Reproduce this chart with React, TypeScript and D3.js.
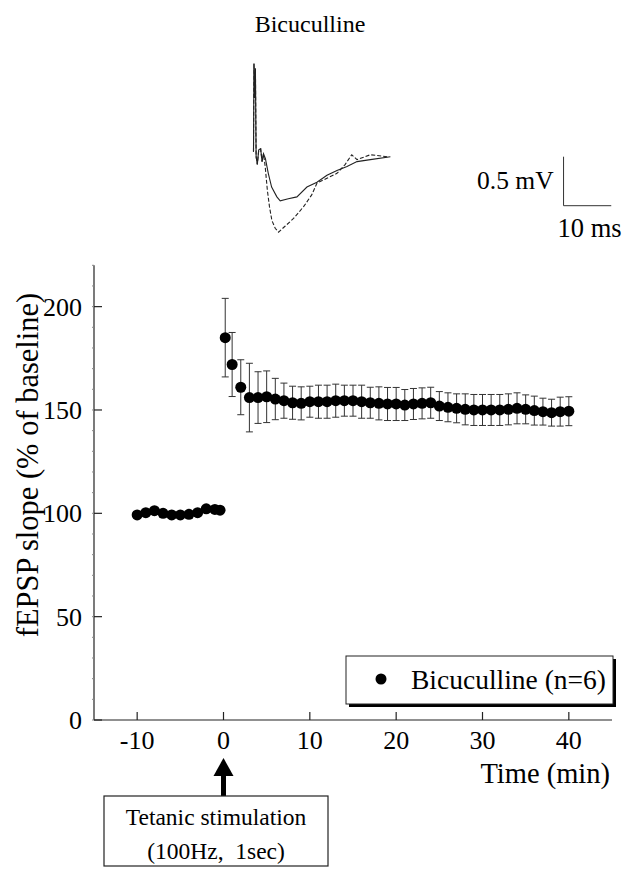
import { useRef, useEffect } from 'react';
import * as d3 from 'd3';

// baseline period (min, % of baseline)
const baseTimes = [-10, -9, -8, -7, -6, -5, -4, -3, -2, -1, -0.4];
const baseMeans = [99.2, 100.3, 101.3, 100, 99.2, 99.2, 99.5, 100.3, 102.2, 101.9, 101.5];
const baseSem = [1.5, 1.5, 1.5, 1.5, 1.5, 1.5, 1.5, 1.5, 1.5, 1.5, 1.5];

// after tetanus
const postTimes = [0.2, 1, 2, 3, 4, 5, 6, 7, 8, 9, 10, 11, 12, 13, 14, 15, 16, 17, 18, 19, 20,
  21, 22, 23, 24, 25, 26, 27, 28, 29, 30, 31, 32, 33, 34, 35, 36, 37, 38, 39, 40];
const postMeans = [185, 172, 161, 156, 156, 156.4, 155.3, 154.5, 153.5, 153.2, 154, 154, 154, 154.5,
  154.5, 154.5, 154, 153.5, 153.2, 152.9, 152.9, 152.4, 152.9, 153.2, 153.5, 151.9, 151.3, 150.8,
  150.3, 150, 150, 150, 150, 150.3, 150.8, 150.3, 149.7, 149.2, 148.7, 149.2, 149.4];
const postSem = [19, 15.5, 13.3, 16.6, 12.5, 12.5, 10, 8.5, 8, 8, 7.5, 8, 8, 8, 7.5, 7.5, 8, 7.5, 8,
  8, 8, 7.5, 7.5, 7.5, 7.5, 7, 7, 7, 7.5, 7.5, 7.5, 7.5, 7.5, 7.5, 7.5, 7, 7, 6.5, 6.5, 7, 7];

const xTicks = [-10, 0, 10, 20, 30, 40];
const yTicks = [0, 50, 100, 150, 200];

// example field potentials (ms, mV)
const traceBefore: [number, number][] = [
  [0, 0.05], [0.1, 0.95], [0.25, 0.6], [0.4, 0.9], [0.55, 0.0], [0.8, -0.08], [1.1, 0.07],
  [1.5, 0.08], [1.8, -0.05], [2.1, 0.03], [2.5, -0.02], [3.1, -0.17], [3.8, -0.31], [4.9, -0.41],
  [5.6, -0.45], [7.3, -0.43], [9.1, -0.41], [11.2, -0.31], [13.3, -0.26], [15.4, -0.19],
  [17.5, -0.14], [19.6, -0.1], [21.7, -0.05], [24.5, -0.03], [28.7, 0]];
const traceAfter: [number, number][] = [
  [0, 0.05], [0.1, 0.95], [0.25, 0.6], [0.4, 0.9], [0.55, 0.0], [0.8, -0.08], [1.1, 0.07],
  [1.5, 0.08], [1.8, -0.05], [2.1, 0.03], [2.45, -0.1], [2.9, -0.34], [3.35, -0.51], [3.85, -0.65],
  [4.55, -0.73], [5.25, -0.77], [6.6, -0.71], [8.4, -0.63], [10.5, -0.51], [12.2, -0.39],
  [13.3, -0.27], [15.4, -0.22], [17.5, -0.17], [19.2, -0.08], [20.6, 0.02], [21.7, -0.03],
  [24.5, 0.02], [28, 0]];

const FONT = '"Liberation Serif", "Times New Roman", serif';

export default function App() {
  const ref = useRef<SVGSVGElement>(null);

  useEffect(() => {
    const svg = d3.select(ref.current);
    svg.selectAll('*').remove();
    const W = 623, H = 870;
    const x = d3.scaleLinear().domain([-15, 45]).range([94, 612]);
    const y = d3.scaleLinear().domain([0, 220]).range([720, 265.3]);

    const g = svg.append('g').attr('font-family', FONT).attr('fill', '#000');

    // title
    g.append('text').attr('x', 310).attr('y', 32).attr('text-anchor', 'middle')
      .style('font-size', '24px').text('Bicuculline');

    // traces
    const xT = d3.scaleLinear().domain([0, 10]).range([253.5, 301.2]);
    const yT = d3.scaleLinear().domain([0, 0.5]).range([156.7, 107.7]);
    const tl = d3.line<[number, number]>().x(d => xT(d[0])).y(d => yT(d[1]));
    g.append('path').datum(traceBefore).attr('d', tl).attr('fill', 'none')
      .attr('stroke', '#222').attr('stroke-width', 1.1);
    g.append('path').datum(traceAfter).attr('d', tl).attr('fill', 'none')
      .attr('stroke', '#222').attr('stroke-width', 1.1).attr('stroke-dasharray', '4,2');
    // scale bar
    g.append('path').attr('fill', 'none').attr('stroke', '#333').attr('stroke-width', 1)
      .attr('d', `M${xT(65)},${yT(0)}V${yT(-0.5)}H${xT(75)}`);
    g.append('text').attr('x', xT(65) - 10).attr('y', 189).attr('text-anchor', 'end')
      .style('font-size', '25.5px').text('0.5 mV');
    g.append('text').attr('x', xT(65) - 6).attr('y', 237)
      .style('font-size', '26.5px').text('10 ms');

    // axes
    g.append('line').attr('x1', x.range()[0]).attr('x2', x.range()[1]).attr('y1', y(0)).attr('y2', y(0))
      .attr('stroke', '#222').attr('stroke-width', 1.2);
    g.append('line').attr('x1', x.range()[0]).attr('x2', x.range()[0]).attr('y1', y(0)).attr('y2', y.range()[1])
      .attr('stroke', '#222').attr('stroke-width', 1.2);

    xTicks.forEach(t => {
      g.append('line').attr('x1', x(t)).attr('x2', x(t)).attr('y1', y(0)).attr('y2', y(0) - 8)
        .attr('stroke', '#222').attr('stroke-width', 1.2);
      g.append('text').attr('x', x(t)).attr('y', 749).attr('text-anchor', 'middle')
        .style('font-size', '26px').text(String(t));
    });
    d3.range(0, 221, 10).forEach(t => {
      g.append('line').attr('x1', x.range()[0] - 2).attr('x2', x.range()[0]).attr('y1', y(t)).attr('y2', y(t))
        .attr('stroke', '#888').attr('stroke-width', 1);
    });
    yTicks.forEach(t => {
      g.append('line').attr('x1', x.range()[0]).attr('x2', x.range()[0] + 8).attr('y1', y(t)).attr('y2', y(t))
        .attr('stroke', '#222').attr('stroke-width', 1.2);
      g.append('text').attr('x', 82).attr('y', y(t)).attr('dy', '0.35em').attr('text-anchor', 'end')
        .style('font-size', '26px').text(String(t));
    });

    g.append('text').attr('x', 610).attr('y', 783).attr('text-anchor', 'end')
      .style('font-size', '28.5px').text('Time (min)');
    g.append('text').attr('transform', `translate(38,${(285 + 645) / 2}) rotate(-90)`)
      .attr('text-anchor', 'middle').style('font-size', '30.5px').text('fEPSP slope (% of baseline)');

    // data
    const pts = [
      ...baseTimes.map((t, i) => ({ t, m: baseMeans[i], s: baseSem[i] })),
      ...postTimes.map((t, i) => ({ t, m: postMeans[i], s: postSem[i] })),
    ];
    const eb = g.append('g').attr('stroke', '#333').attr('stroke-width', 1).attr('fill', 'none');
    pts.forEach(d => {
      const cx = x(d.t);
      eb.append('path').attr('d',
        `M${cx},${y(d.m - d.s)}V${y(d.m + d.s)}M${cx - 3.5},${y(d.m + d.s)}h7M${cx - 3.5},${y(d.m - d.s)}h7`);
    });
    g.append('g').selectAll('circle').data(pts).join('circle')
      .attr('cx', d => x(d.t)).attr('cy', d => y(d.m)).attr('r', 5.5).attr('fill', '#000');

    // legend
    const lg = g.append('g');
    lg.append('rect').attr('x', 349).attr('y', 659).attr('width', 267).attr('height', 48).attr('fill', '#000');
    lg.append('rect').attr('x', 346).attr('y', 656).attr('width', 267).attr('height', 48)
      .attr('fill', '#fff').attr('stroke', '#222').attr('stroke-width', 1);
    lg.append('circle').attr('cx', 381).attr('cy', 679).attr('r', 5.5).attr('fill', '#000');
    lg.append('text').attr('x', 411).attr('y', 689).style('font-size', '27.5px').text('Bicuculline (n=6)');

    // stimulation arrow + box
    const ax = x(0);
    g.append('rect').attr('x', ax - 2.5).attr('y', 774).attr('width', 5).attr('height', 22).attr('fill', '#000');
    g.append('path').attr('d', `M${ax},758L${ax + 10},776L${ax - 10},776Z`).attr('fill', '#000');
    g.append('rect').attr('x', 104).attr('y', 796).attr('width', 224).attr('height', 70)
      .attr('fill', '#fff').attr('stroke', '#222').attr('stroke-width', 1.2);
    g.append('text').attr('x', 216).attr('y', 825).attr('text-anchor', 'middle')
      .style('font-size', '23.5px').text('Tetanic stimulation');
    g.append('text').attr('x', 216).attr('y', 859).attr('text-anchor', 'middle')
      .style('font-size', '23.5px').attr('xml:space', 'preserve').text('(100Hz,  1sec)');

    svg.attr('width', W).attr('height', H);
  }, []);

  return <svg ref={ref} width={623} height={870} style={{ position: 'absolute', left: 0, top: 0, background: '#fff' }} />;
}
